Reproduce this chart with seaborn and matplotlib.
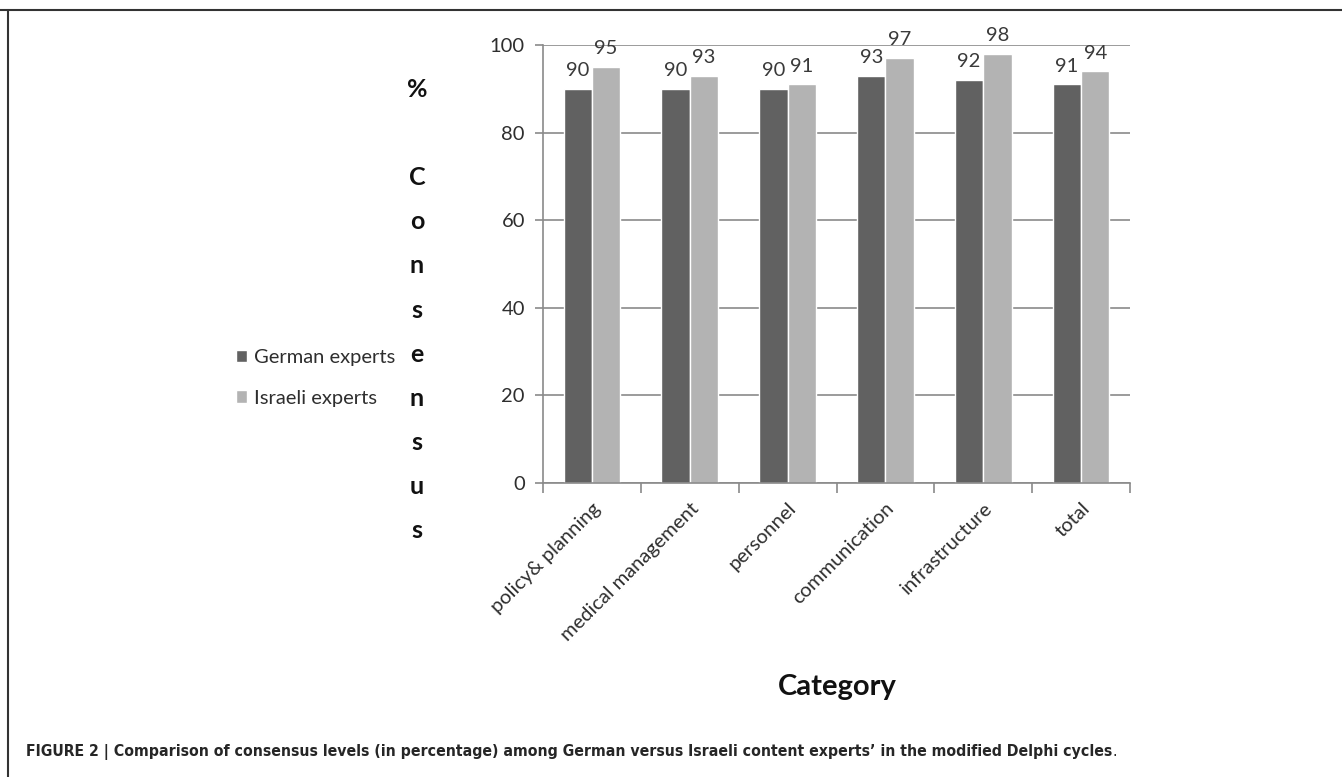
import pandas as pd
import numpy as np
import matplotlib.pyplot as plt
import seaborn as sns
from matplotlib.lines import Line2D
from matplotlib import font_manager

categories = ["policy& planning", "medical management", "personnel",
              "communication", "infrastructure", "total"]
german = [90, 90, 90, 93, 92, 91]
israeli = [95, 93, 91, 97, 98, 94]
groups = ["German experts", "Israeli experts"]
yticks = [0, 20, 40, 60, 80, 100]

df = pd.DataFrame({
    "category": categories * 2,
    "value": german + israeli,
    "group": [groups[0]] * 6 + [groups[1]] * 6,
})

sns.set_style("white")
plt.rcParams['font.family'] = ['Lato', 'DejaVu Sans']

W, H = 1342, 777
fig = plt.figure(figsize=(W / 100, H / 100), dpi=100)
ax = fig.add_axes([543 / W, 1 - 483 / H, 587 / W, 438 / H])

sns.barplot(data=df, x="category", y="value", hue="group", order=categories,
            hue_order=groups, palette=["#616161", "#b3b3b3"], width=0.58,
            saturation=1, ax=ax, legend=True)

for c in ax.containers:
    ax.bar_label(c, padding=7, fontsize=14.5, color="#3a3a3a")

ax.set_ylim(0, 100)
ax.set_xlim(-0.5, 5.5)
ax.set_yticks(yticks)
ax.yaxis.grid(True, color="#8a8a8a", linewidth=1.2)
ax.set_axisbelow(True)
for s in ["top", "right"]:
    ax.spines[s].set_visible(False)
for s in ["left", "bottom"]:
    ax.spines[s].set_color("#8a8a8a")
    ax.spines[s].set_linewidth(1.2)

ax.tick_params(axis="y", which="major", left=True, length=6, color="#8a8a8a",
               width=1.2, labelsize=14.5, labelcolor="#2e2e2e", pad=7)
ax.set_xticks(np.arange(len(categories)))
ax.set_xticklabels(categories, rotation=45, ha="right", rotation_mode="anchor",
                   fontsize=14.5, color="#2e2e2e")
ax.tick_params(axis="x", which="major", length=0, pad=12)
ax.set_xticks(np.arange(-0.5, 6.0, 1.0), minor=True)
ax.tick_params(axis="x", which="minor", bottom=True, length=7, color="#8a8a8a", width=1.2)
ax.set_xlabel("")
ax.set_ylabel("")

leg = ax.legend(loc="center left", bbox_to_anchor=(228 / W, 1 - 378 / H),
                bbox_transform=fig.transFigure, frameon=False, fontsize=14.5,
                handlelength=0.55, handleheight=0.55, handletextpad=0.35,
                labelspacing=1.15, borderaxespad=0)
for t in leg.get_texts():
    t.set_color("#2e2e2e")

fig.text(417 / W, 1 - 310 / H, "%\n\nC\no\nn\ns\ne\nn\ns\nu\ns", ha="center",
         va="center", fontsize=18, fontweight="bold", linespacing=2.115,
         color="#111111")
fig.text(837 / W, 1 - 687 / H, "Category", ha="center", va="center",
         fontsize=21, fontweight="bold", color="#111111")

# figure frame
fig.add_artist(Line2D([0, 1], [1 - 10 / H, 1 - 10 / H], transform=fig.transFigure,
                      color="#333333", linewidth=1.5))
fig.add_artist(Line2D([8 / W, 8 / W], [0, 1 - 10 / H], transform=fig.transFigure,
                      color="#333333", linewidth=1.5))

# caption: condensed face if one is installed, size fitted to the reference width
names = {f.name for f in font_manager.fontManager.ttflist}
stretch = "normal"
cap_family = "Liberation Sans"
for n in ["Liberation Sans Narrow", "Arial Narrow"]:
    if n in names:
        cap_family = n
        break
else:
    for f in font_manager.fontManager.ttflist:
        if f.name == "DejaVu Sans" and str(f.stretch) in ("condensed", "semi-condensed"):
            cap_family, stretch = "DejaVu Sans", "condensed"
            break

cap_text = ("FIGURE 2 | Comparison of consensus levels (in percentage) among German "
            "versus Israeli content experts\u2019 in the modified Delphi cycles")
cap = fig.text(26 / W, 1 - 752 / H, cap_text, ha="left", va="center", fontsize=14,
               fontweight="bold", family=cap_family, fontstretch=stretch)
fig.canvas.draw()
w = cap.get_window_extent().width
size = min(14 * 1088 / w, 14.5)
cap.set_fontsize(size)
fig.canvas.draw()
bb = cap.get_window_extent()
fig.text(bb.x1 / W, 1 - 752 / H, ".", ha="left", va="center", fontsize=size,
         family=cap_family, fontstretch=stretch)

fig.savefig("out.png", dpi=100)
